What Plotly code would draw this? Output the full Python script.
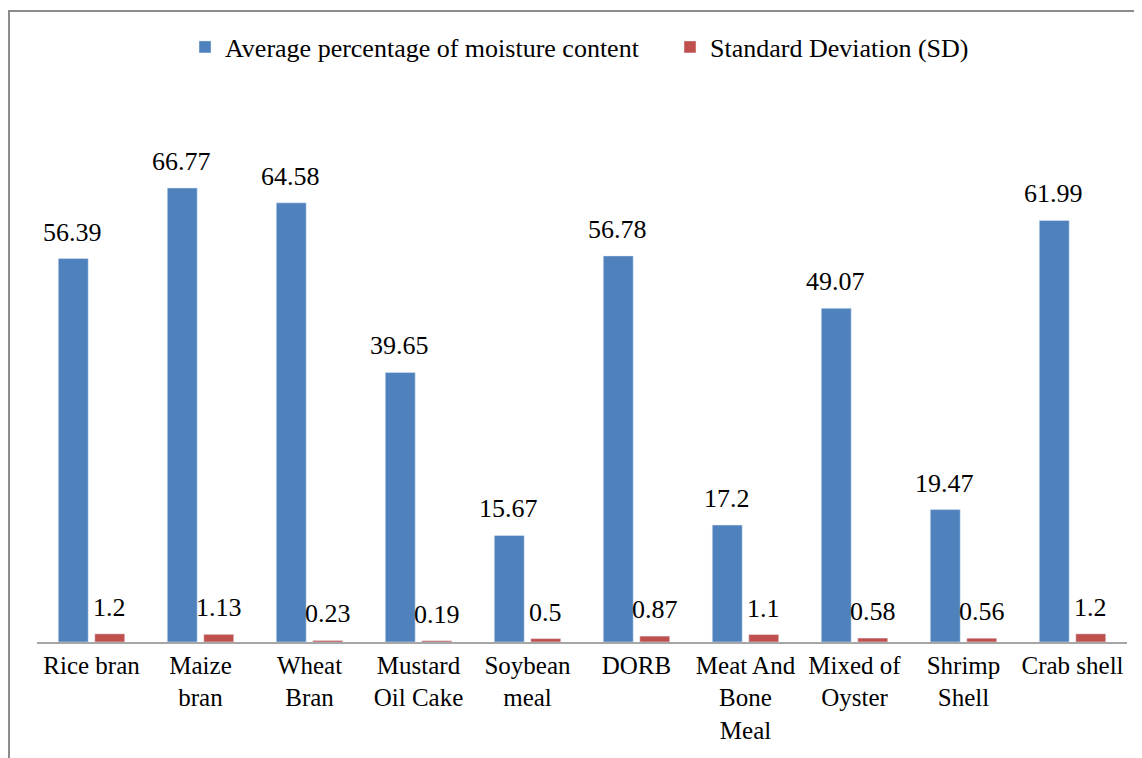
import plotly.graph_objects as go

categories = ["Rice bran", "Maize<br>bran", "Wheat<br>Bran", "Mustard<br>Oil Cake", "Soybean<br>meal",
              "DORB", "Meat And<br>Bone<br>Meal", "Mixed of<br>Oyster", "Shrimp<br>Shell", "Crab shell"]
moisture = [56.39, 66.77, 64.58, 39.65, 15.67, 56.78, 17.2, 49.07, 19.47, 61.99]
sd = [1.2, 1.13, 0.23, 0.19, 0.5, 0.87, 1.1, 0.58, 0.56, 1.2]
series_names = ["Average percentage of moisture content", "Standard Deviation (SD)"]

FONT = "'Liberation Serif', 'Times New Roman', serif"
BLUE = "#4F81BD"
RED = "#C0504D"

# page has an 8px body margin, so figure coords = screen coords - 8
OFF = 8
W, H = 1142, 758
ML = 37 - OFF
MT = 98 - OFF
MR = W - (1127 - OFF)
MB = H - (642 - OFF)
PW = W - ML - MR
PH = H - MT - MB

fig = go.Figure()
fig.add_trace(go.Bar(x=categories, y=moisture, name=series_names[0], marker_color=BLUE))
fig.add_trace(go.Bar(x=categories, y=sd, name=series_names[1], marker_color=RED))

annotations = []
for c, v in zip(categories, moisture):
    annotations.append(dict(x=c, y=v, text=str(v), showarrow=False, xanchor="center", yanchor="bottom",
                            xshift=-19, yshift=10, font=dict(family=FONT, size=26, color="#000")))
for c, v in zip(categories, sd):
    annotations.append(dict(x=c, y=v, text=str(v), showarrow=False, xanchor="center", yanchor="bottom",
                            xshift=18, yshift=10, font=dict(family=FONT, size=26, color="#000")))

# outer chart border (partially cropped in reference)
bx0 = (9 - OFF - ML) / PW
bx1 = (W + 5 - ML) / PW
by1 = (H - MB - (11 - OFF)) / PH
by0 = (H - MB - (H + 5)) / PH

fig.update_layout(
    width=W, height=H,
    margin=dict(l=ML, r=MR, t=MT, b=MB, autoexpand=False),
    paper_bgcolor="white", plot_bgcolor="white",
    barmode="group", bargap=0.33, bargroupgap=0.18,
    font=dict(family=FONT, size=26, color="#000"),
    showlegend=True,
    legend=dict(orientation="h", x=0.5 + 88 / PW, xanchor="center", y=1.0 + (MT - (47 - OFF)) / PH,
                yanchor="middle",
                font=dict(family=FONT, size=26, color="#000"), traceorder="normal",
                entrywidth=440, entrywidthmode="pixels"),
    xaxis=dict(showline=True, linecolor="#A6A6A6", linewidth=1.5, ticks="", showgrid=False,
               tickfont=dict(family=FONT, size=25, color="#000")),
    yaxis=dict(range=[0, 80], visible=False, showgrid=False, zeroline=False),
    annotations=annotations,
    shapes=[dict(type="rect", xref="paper", yref="paper", x0=bx0, x1=bx1, y0=by0, y1=by1,
                 line=dict(color="#8C8C8C", width=2), fillcolor="rgba(0,0,0,0)", layer="below")],
)

fig.write_html("out.html")
